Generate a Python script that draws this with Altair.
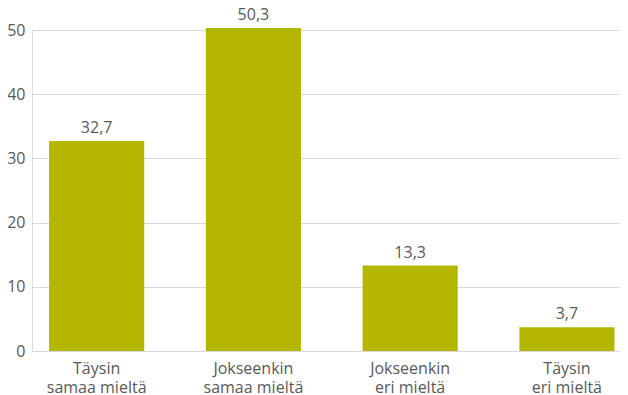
import altair as alt
import pandas as pd

categories = ["Täysin samaa mieltä", "Jokseenkin samaa mieltä", "Jokseenkin eri mieltä", "Täysin eri mieltä"]
values = [32.7, 50.3, 13.3, 3.7]
y_ticks = [0, 10, 20, 30, 40, 50]

df = pd.DataFrame({"cat": categories, "val": values})
df["lbl"] = [f"{v:.1f}".replace(".", ",") for v in values]

FONT = "Open Sans"
TXT = "#595959"
BAR = "#b3b700"

x = alt.X("cat:N", sort=categories, title=None,
          scale=alt.Scale(paddingInner=0.393, paddingOuter=0.072, align=0.756),
          axis=alt.Axis(labelAngle=0, labelFont=FONT, labelFontSize=16, labelColor=TXT,
                        ticks=False, domain=True, domainColor="#d9d9d9", labelPadding=9,
                        labelLineHeight=19,
                        labelExpr="[slice(datum.label, 0, indexof(datum.label, ' ')), slice(datum.label, indexof(datum.label, ' ') + 1)]"))
y = alt.Y("val:Q", title=None,
          scale=alt.Scale(domain=[0, 50], nice=False),
          axis=alt.Axis(values=y_ticks, labelFont=FONT, labelFontSize=16, labelColor=TXT,
                        ticks=False, domain=False, gridColor="#d9d9d9", labelPadding=7))

bars = alt.Chart(df).mark_bar(color=BAR).encode(x=x, y=y)
text = alt.Chart(df).mark_text(dy=-13, font=FONT, fontSize=16, color=TXT).encode(
    x=alt.X("cat:N", sort=categories), y="val:Q", text="lbl:N")

chart = (bars + text).properties(
    width=588, height=321,
    autosize=alt.AutoSizeParams(type="none"),
    padding={"left": 24, "top": 22, "right": 0, "bottom": 50},
).configure_view(stroke=None).configure(background="white")

chart.save("out.html", embed_options={"renderer": "svg", "actions": False})
